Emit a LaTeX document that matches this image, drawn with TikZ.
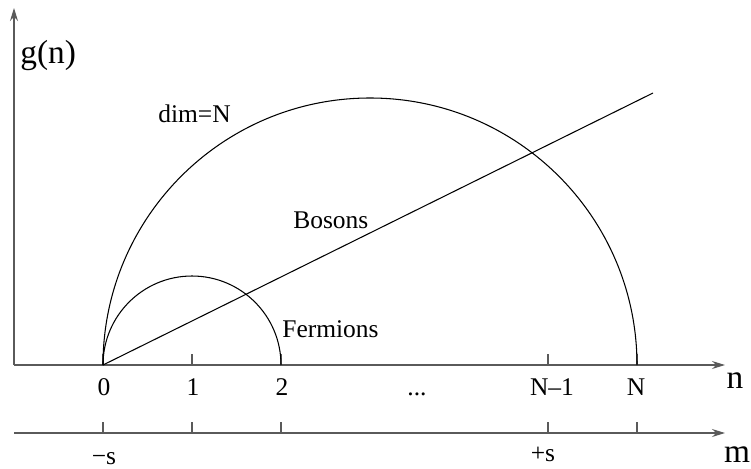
\documentclass[tikz,border=0pt]{standalone}
\usepackage{fontspec}
\setmainfont{Liberation Serif}
\usetikzlibrary{arrows.meta}
\definecolor{Axis}{HTML}{5A5A5A}

\begin{document}
\begin{tikzpicture}[x=0.02cm,y=0.02cm,
  axis/.style={draw=Axis,line width=0.7pt,-{Stealth[length=2.6mm,width=1.6mm]}},
  tick/.style={draw=Axis,line width=0.7pt},
  curve/.style={draw=black,line width=0.6pt},
  lbl/.style={font=\fontsize{14.5}{16}\selectfont,inner sep=0pt,anchor=base},
  axlbl/.style={font=\fontsize{19}{21}\selectfont,inner sep=0pt,anchor=base}
]
\useasboundingbox (0,0) rectangle (751,468);
\coordinate (o) at (103,103);
\coordinate (yend) at (14,460);
\coordinate (nl) at (14,103);
\coordinate (nr) at (725,103);
\coordinate (ml) at (14,35);
\coordinate (mr) at (725,35);
\coordinate (bend) at (653,375);
\draw[axis] (nl) -- (yend);
\draw[axis] (nl) -- (nr);
\draw[axis] (ml) -- (mr);
\foreach \x in {103,192,281,548,637} {
  \draw[tick] (\x,103) -- ++(0,11);
  \draw[tick] (\x,35) -- ++(0,11);
}
\draw[curve] (o) arc[start angle=180,end angle=0,radius=267];
\draw[curve] (o) arc[start angle=180,end angle=0,radius=89];
\draw[curve] (o) -- (bend);
\node[lbl] (t0) at (104,73) {0};
\node[lbl] (t1) at (193,73) {1};
\node[lbl] (t2) at (282,73) {2};
\node[lbl] (dots) at (417,73) {...};
\node[lbl] (tnm) at (552,73) {N--1};
\node[lbl] (tn) at (636,73) {N};
\node[lbl] (sneg) at (104,4) {−s};
\node[lbl] (spos) at (543,7) {+s};
\node[axlbl] (nlbl) at (735,80) {n};
\node[axlbl] (mlbl) at (737,6) {m};
\node[axlbl,anchor=base west] (glbl) at (20,405) {g(n)};
\node[lbl,anchor=base west] (dim) at (158,346) {dim=N};
\node[lbl,anchor=base west] (bos) at (293,240) {Bosons};
\node[lbl,anchor=base west] (fer) at (282,131) {Fermions};
\end{tikzpicture}
\end{document}
